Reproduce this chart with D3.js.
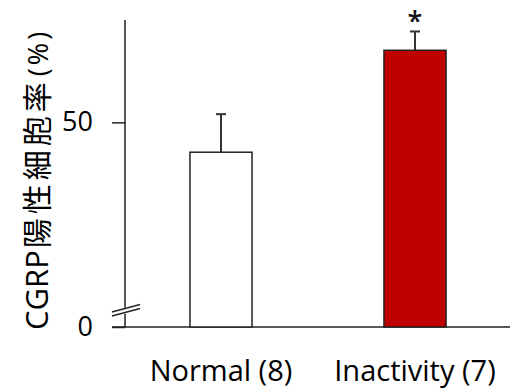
<!DOCTYPE html>
<html><head><meta charset="utf-8">
<script src="https://cdn.jsdelivr.net/npm/d3@7"></script>
<style>body{margin:0;background:#fff}svg{display:block}text{font-family:"Open Sans","Noto Sans",sans-serif}</style>
</head><body>
<script>
const categories = ["Normal (8)", "Inactivity (7)"];
const values = [42.7, 67.6];
const errors = [9.3, 4.6];
const colors = ["#ffffff", "#c00000"];
const significance = ["", "*"];
const yTicks = [0, 50];
const yLabelParts = ["CGRP", "陽性細胞率", "(%)"];

const W = 510, H = 390;
const svg = d3.select("body").append("svg").attr("width", W).attr("height", H);
const x0 = 125;
const y = d3.scaleLinear().domain([0, 75]).range([327, 20]);
const x = d3.scaleBand().domain(categories).range([124, 512]).paddingInner(0.68).paddingOuter(0.34);

// baseline
svg.append("line").attr("x1", 112).attr("x2", W).attr("y1", y(0)).attr("y2", y(0))
  .attr("stroke", "#222").attr("stroke-width", 1.5);
// y axis
const axis = d3.axisLeft(y).tickValues(yTicks).tickSize(13).tickPadding(19);
const g = svg.append("g").attr("transform", `translate(${x0},0)`).call(axis);
g.select(".domain").remove();
g.selectAll(".tick line").attr("stroke", "#222").attr("stroke-width", 1.5);
g.selectAll(".tick text").attr("font-size", 27).attr("fill", "#000");
svg.append("line").attr("x1", x0).attr("x2", x0).attr("y1", y(75)).attr("y2", y(0))
  .attr("stroke", "#222").attr("stroke-width", 1.5);

// break marks
const brk = svg.append("g");
brk.append("polygon").attr("points", "110,318 142,309 142,303 110,312").attr("fill", "#fff");
brk.append("line").attr("x1", 112).attr("y1", 316).attr("x2", 140).attr("y2", 308.5).attr("stroke", "#222").attr("stroke-width", 1.3);
brk.append("line").attr("x1", 112).attr("y1", 312).attr("x2", 140).attr("y2", 304.5).attr("stroke", "#222").attr("stroke-width", 1.3);

// bars
const bars = svg.append("g");
categories.forEach((c, i) => {
  const cx = x(c) + x.bandwidth() / 2;
  bars.append("line").attr("x1", cx).attr("x2", cx).attr("y1", y(values[i])).attr("y2", y(values[i] + errors[i]))
    .attr("stroke", "#333").attr("stroke-width", 2);
  bars.append("line").attr("x1", cx - 5).attr("x2", cx + 5).attr("y1", y(values[i] + errors[i])).attr("y2", y(values[i] + errors[i]))
    .attr("stroke", "#333").attr("stroke-width", 2);
  bars.append("rect").attr("x", x(c)).attr("width", x.bandwidth())
    .attr("y", y(values[i])).attr("height", y(0) - y(values[i]))
    .attr("fill", colors[i]).attr("stroke", "#222").attr("stroke-width", 1.5);
  if (significance[i]) {
    svg.append("text").attr("x", cx).attr("y", y(values[i] + errors[i])).attr("text-anchor", "middle")
      .attr("font-size", 27).attr("font-weight", 600).attr("fill", "#111").text(significance[i]);
  }
  svg.append("text").attr("x", cx).attr("y", 381).attr("text-anchor", "middle")
    .attr("font-size", 29).attr("fill", "#000").text(c);
});

const lab = svg.append("text").attr("transform", `translate(48,330) rotate(-90)`)
  .attr("text-anchor", "start").attr("fill", "#000");
lab.append("tspan").attr("font-size", 31).text(yLabelParts[0]);
lab.append("tspan").attr("font-size", 30).attr("letter-spacing", 4).attr("dx", 2)
  .style("font-family", "'Noto Sans CJK JP',sans-serif").text(yLabelParts[1]);
lab.append("tspan").attr("font-size", 27).attr("letter-spacing", 3).attr("dx", 2).text(yLabelParts[2]);
</script>
</body></html>
